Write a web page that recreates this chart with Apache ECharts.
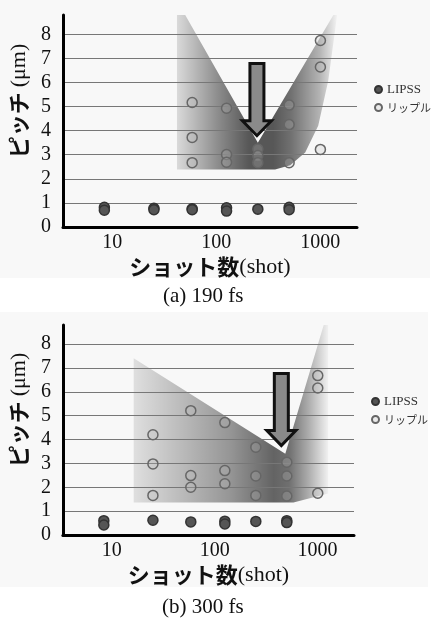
<!DOCTYPE html>
<html>
<head>
<meta charset="utf-8">
<script src="https://cdn.jsdelivr.net/npm/echarts@6/dist/echarts.min.js"></script>
<style>
  html, body { margin: 0; padding: 0; background: #fff; }
  #main { width: 431px; height: 623px; }
</style>
</head>
<body>
<div id="main"></div>
<script>
// tick labels
const xTickLabels = [10, 100, 1000];
const subtitles = ['(a) 190 fs', '(b) 300 fs'];

// (a) 190 fs  [shots, pitch um]
const lipssA = [[10, 0.82], [10, 0.7], [30, 0.78], [30, 0.72], [70, 0.76], [70, 0.72],
  [150, 0.8], [150, 0.66], [300, 0.74], [600, 0.82], [600, 0.72]];
const rippleA = [[70, 5.17], [70, 3.72], [70, 2.67], [150, 4.93], [150, 3.01], [150, 2.69],
  [300, 3.24], [300, 2.97], [300, 2.67], [600, 5.06], [600, 4.25], [600, 2.67],
  [1200, 7.74], [1200, 6.64], [1200, 3.22]];
const shadeA = [[50, 8.8], [60, 8.8], [300, 3.5], [1600, 8.8], [1740, 8.8], [1426, 6.06],
  [1143, 4.2], [857, 3.09], [614, 2.56], [440, 2.39], [50, 2.39]];
const arrowA = [294, 6.79, 3.79];

// (b) 300 fs
const lipssB = [[10, 0.6], [10, 0.42], [30, 0.62], [70, 0.55], [150, 0.58], [150, 0.46],
  [300, 0.57], [600, 0.6], [600, 0.52]];
const rippleB = [[30, 4.2], [30, 2.98], [30, 1.66], [70, 5.21], [70, 2.49], [70, 2.0],
  [150, 4.71], [150, 2.7], [150, 2.15], [300, 3.68], [300, 2.47], [300, 1.66],
  [600, 3.05], [600, 2.47], [600, 1.63], [1200, 6.68], [1200, 6.16], [1200, 1.75]];
const shadeB = [[19.5, 7.41], [580, 3.41], [1371, 8.8], [1514, 8.8], [1514, 1.74],
  [697, 1.36], [19.5, 1.36]];
const arrowB = [531, 6.77, 3.75];

const chart = echarts.init(document.getElementById('main'), null, { renderer: 'canvas' });

const serif = 'Liberation Serif, DejaVu Serif, serif';
const jp = 'Noto Sans CJK JP';

function shadeSeries(idx, pts, stops) {
  return {
    type: 'custom',
    xAxisIndex: idx,
    yAxisIndex: idx,
    z: -1,
    silent: true,
    data: pts,
    renderItem: function (params, api) {
      if (params.dataIndex !== 0) return null;
      return {
        type: 'polygon',
        shape: { points: pts.map(p => api.coord(p)) },
        style: {
          fill: new echarts.graphic.LinearGradient(0, 0, 1, 0,
            stops.map(s => ({ offset: s[0], color: 'rgba(0,0,0,' + s[1] + ')' })))
        }
      };
    }
  };
}

function arrowSeries(idx, arr) {
  return {
    type: 'custom',
    xAxisIndex: idx,
    yAxisIndex: idx,
    z: 5,
    silent: true,
    data: [arr],
    renderItem: function (params, api) {
      const top = api.coord([api.value(0), api.value(1)]);
      const tip = api.coord([api.value(0), api.value(2)]);
      const cx = top[0], hb = tip[1] - 15;
      return {
        type: 'polygon',
        shape: {
          points: [[cx - 7, top[1]], [cx + 7, top[1]], [cx + 7, hb], [cx + 14.5, hb],
            [cx, tip[1]], [cx - 14.5, hb], [cx - 7, hb]]
        },
        style: { fill: '#8a8a8a', stroke: '#111', lineWidth: 3, lineJoin: 'miter' }
      };
    }
  };
}

function scatter(idx, name, data, fill, border) {
  return {
    name: name,
    type: 'scatter',
    xAxisIndex: idx,
    yAxisIndex: idx,
    symbolSize: 10,
    data: data,
    itemStyle: { color: fill, borderColor: border, borderWidth: 1.5, opacity: 1 }
  };
}

function xAxis(idx) {
  return {
    type: 'log',
    gridIndex: idx,
    logBase: 10,
    min: 4,
    max: 2700,
    name: '{j|ショット数}{s|(shot)}',
    nameLocation: 'middle',
    nameGap: 29,
    nameTextStyle: {
      rich: {
        j: { fontFamily: jp, fontWeight: 'bold', fontSize: 22, color: '#111' },
        s: { fontFamily: serif, fontSize: 22, color: '#111' }
      }
    },
    axisLine: { show: true, lineStyle: { color: '#000', width: 3 } },
    axisTick: { show: false },
    splitLine: { show: false },
    axisLabel: {
      fontFamily: serif, fontSize: 20, color: '#111', margin: 6,
      padding: [0, 0, 0, 16],
      showMinLabel: false, showMaxLabel: false,
      formatter: v => xTickLabels.indexOf(Math.round(v)) >= 0 ? String(Math.round(v)) : ''
    }
  };
}

function yAxis(idx) {
  return {
    type: 'value',
    gridIndex: idx,
    min: 0,
    max: 8.8,
    interval: 1,
    name: '{j|ピッチ }{s|(μm)}',
    nameLocation: 'middle',
    nameGap: 30,
    nameTextStyle: {
      padding: [0, 0, 0, 40],
      rich: {
        j: { fontFamily: jp, fontWeight: 'bold', fontSize: 22, color: '#111' },
        s: { fontFamily: serif, fontSize: 22, color: '#111' }
      }
    },
    axisLine: { show: true, lineStyle: { color: '#000', width: 3 } },
    axisTick: { show: false },
    splitLine: { show: true, showMinLine: false, showMaxLine: false, lineStyle: { color: '#777', width: 1 } },
    axisLabel: { fontFamily: serif, fontSize: 20, color: '#111', margin: 12, showMaxLabel: false }
  };
}

function legend(left, top) {
  return {
    orient: 'vertical',
    left: left,
    top: top,
    padding: 0,
    itemWidth: 7,
    itemHeight: 7,
    itemGap: 6,
    icon: 'circle',
    data: ['LIPSS', 'リップル'],
    formatter: name => name === 'LIPSS' ? '{s|LIPSS}' : '{j|リップル}',
    textStyle: {
      color: '#333',
      rich: {
        s: { fontFamily: serif, fontSize: 13, color: '#333' },
        j: { fontFamily: jp, fontSize: 11, color: '#333' }
      }
    }
  };
}

const stopsA = [[0, 0.12], [0.27, 0.45], [0.45, 0.65], [0.6, 0.65], [0.71, 0.55], [0.89, 0.28], [1, 0.02]];
const stopsB = [[0, 0.1], [0.5, 0.4], [0.72, 0.6], [0.8, 0.55], [0.9, 0.3], [1, 0.03]];

const option = {
  backgroundColor: '#fff',
  animation: false,
  graphic: [
    { type: 'rect', z: -100, shape: { x: 0, y: 0, width: 430, height: 278 }, style: { fill: '#f8f8f8' } },
    { type: 'rect', z: -100, shape: { x: 0, y: 312, width: 428, height: 275 }, style: { fill: '#f8f8f8' } }
  ],
  title: [
    { text: subtitles[0], left: 163, top: 286, padding: 0,
      textStyle: { fontFamily: serif, fontSize: 21, fontWeight: 'normal', color: '#111' } },
    { text: subtitles[1], left: 162, top: 597, padding: 0,
      textStyle: { fontFamily: serif, fontSize: 21, fontWeight: 'normal', color: '#111' } }
  ],
  legend: [legend(374, 83), legend(371, 395)],
  grid: [
    { left: 63, top: 15, width: 294, height: 212 },
    { left: 62, top: 325, width: 292, height: 210 }
  ],
  xAxis: [xAxis(0), xAxis(1)],
  yAxis: [yAxis(0), yAxis(1)],
  series: [
    shadeSeries(0, shadeA, stopsA),
    scatter(0, 'LIPSS', lipssA, '#555', '#333'),
    scatter(0, 'リップル', rippleA, 'rgba(190,190,190,0.25)', '#666'),
    arrowSeries(0, arrowA),
    shadeSeries(1, shadeB, stopsB),
    scatter(1, 'LIPSS', lipssB, '#555', '#333'),
    scatter(1, 'リップル', rippleB, 'rgba(190,190,190,0.25)', '#666'),
    arrowSeries(1, arrowB)
  ]
};

chart.setOption(option);
</script>
</body>
</html>
